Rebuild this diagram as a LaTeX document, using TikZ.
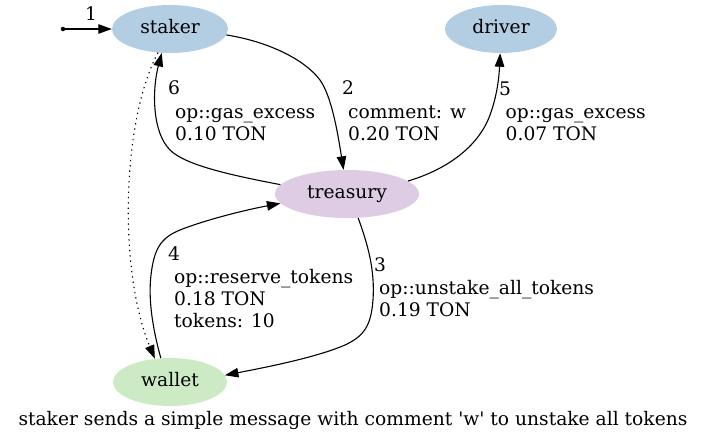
\documentclass[tikz,border=0pt]{standalone}
\usepackage{fontspec}
\setmainfont{DejaVu Serif}[Ligatures=TeXOff]
\usetikzlibrary{arrows.meta,shapes.geometric}
\definecolor{cblue}{HTML}{B3CDE3}
\definecolor{cpurple}{HTML}{DECBE4}
\definecolor{cgreen}{HTML}{CCEBC5}
\tikzset{
  gvfont/.style={font=\fontsize{18.67pt}{22.4pt}\selectfont},
  actor/.style={ellipse, inner sep=0pt, minimum height=48pt, gvfont, text height=13pt, text depth=4pt},
  edge/.style={line width=1.1pt, -{Triangle[length=13.5pt,width=9.5pt]}},
  lbl/.style={gvfont, inner sep=0pt, anchor=base west, align=left},
}
\begin{document}
\begin{tikzpicture}[x=1pt,y=-1pt]
\useasboundingbox (0,0) rectangle (706,445);
\node[actor, fill=cblue, minimum width=116pt] (staker) at (170,29) {staker};
\node[actor, fill=cblue, minimum width=112pt] (driver) at (501,29) {driver};
\node[actor, fill=cpurple, minimum width=144pt] (treasury) at (347,194) {treasury};
\node[actor, fill=cgreen, minimum width=114pt] (wallet) at (170,382) {wallet};
\node[circle, fill=black, inner sep=0pt, minimum size=4.5pt] (start) at (63,29) {};

\draw[edge] (start) -- (staker.west);
\node[lbl] (n1) at (85,20) {1};

\draw[edge] (staker.-6) .. controls (270,42) and (305,60) .. (320,80)
  .. controls (332,97) and (338,135) .. (treasury.98);
\node[lbl] (n2) at (342,94) {2};
\node[lbl] (t2) at (348,140.4) {comment: w\\0.20 TON};

\draw[edge] (treasury.-65) .. controls (368,245) and (375,270) .. (373,300)
  .. controls (371,326) and (364,336) .. (345,345)
  .. controls (315,358) and (262,368) .. (wallet.7);
\node[lbl] (n3) at (374,271) {3};
\node[lbl] (t3) at (379,316.4) {op::unstake\_all\_tokens\\0.19 TON};

\draw[edge] (wallet.111) .. controls (153,330) and (148,300) .. (151,275)
  .. controls (154,250) and (160,238) .. (180,230)
  .. controls (205,220) and (245,210) .. (treasury.-172);
\node[lbl] (n4) at (168,260) {4};
\node[lbl] (t4) at (174,327.8) {op::reserve\_tokens\\0.18 TON\\tokens: 10};

\draw[edge] (treasury.12) .. controls (445,170) and (478,148) .. (490,115)
  .. controls (497,96) and (499,78) .. (driver.-92);
\node[lbl] (n5) at (499,95) {5};
\node[lbl] (t5) at (505.5,140.4) {op::gas\_excess\\0.07 TON};

\draw[edge] (treasury.172) .. controls (230,175) and (185,165) .. (170,150)
  .. controls (152,132) and (152,90) .. (staker.-109);
\node[lbl] (n6) at (168,94) {6};
\node[lbl] (t6) at (175,140.4) {op::gas\_excess\\0.10 TON};

\draw[edge, dash pattern=on 1.3pt off 4pt] (staker.-117) .. controls (122,120) and (118,270) .. (wallet.123);

\node[gvfont, inner sep=0pt, anchor=base] (caption) at (353,425) {staker sends a simple message with comment 'w' to unstake all tokens};
\end{tikzpicture}
\end{document}
